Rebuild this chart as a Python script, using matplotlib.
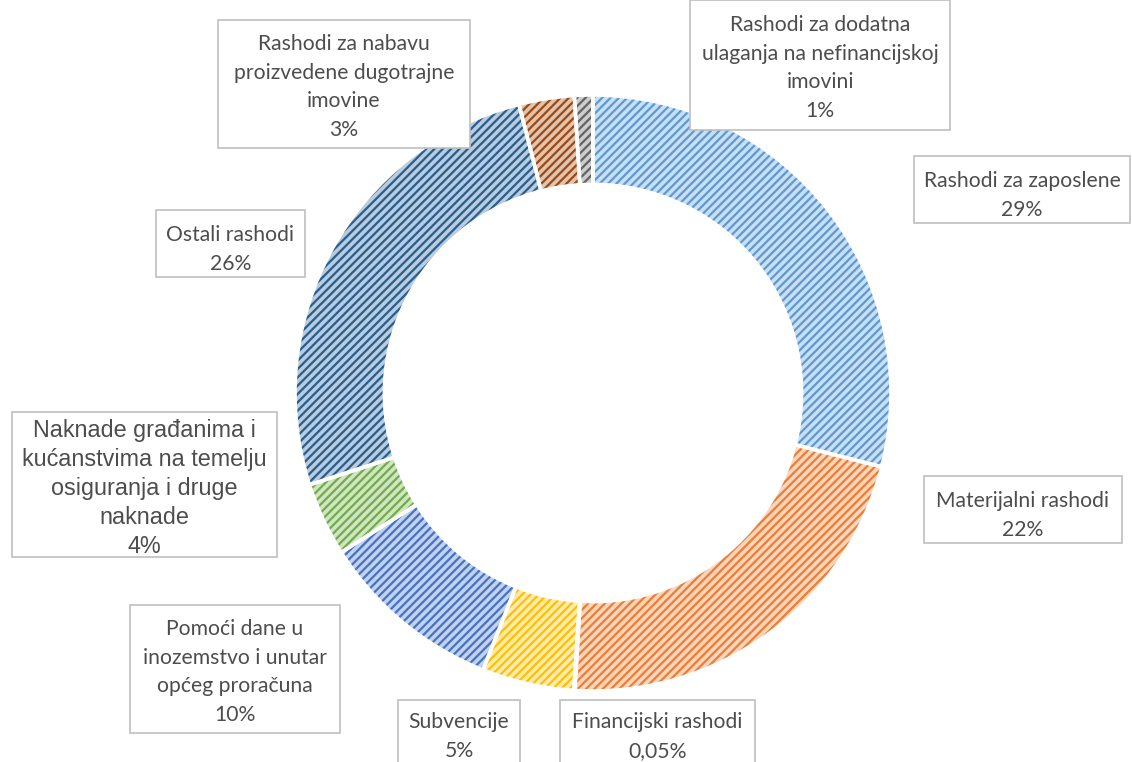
import matplotlib
matplotlib.use("Agg")
import matplotlib.pyplot as plt
from matplotlib.patches import Rectangle
from matplotlib.colors import to_rgb

# data
categories = [
    "Rashodi za zaposlene",
    "Materijalni rashodi",
    "Financijski rashodi",
    "Subvencije",
    "Pomoći dane u\ninozemstvo i unutar\nopćeg proračuna",
    "Naknade građanima i\nkućanstvima na temelju\nosiguranja i druge\nnaknade",
    "Ostali rashodi",
    "Rashodi za nabavu\nproizvedene dugotrajne\nimovine",
    "Rashodi za dodatna\nulaganja na nefinancijskoj\nimovini",
]
values = [29, 22, 0.05, 5, 10, 4, 26, 3, 1]
colors = ["#5B9BD5", "#ED7D31", "#A5A5A5", "#FFC000", "#4472C4",
          "#70AD47", "#255E91", "#9E480E", "#636363"]

# label box layout (image pixels: left, top, right, bottom)
boxes = [
    (914, 156, 1130, 223),
    (924, 476, 1122, 543),
    (560, 700, 755, 770),
    (398, 700, 520, 770),
    (130, 605, 340, 733),
    (12, 412, 277, 557),
    (156, 210, 305, 277),
    (218, 20, 470, 148),
    (690, 0, 950, 130),
]

W, H = 1132, 762
fig = plt.figure(figsize=(W / 100, H / 100), dpi=100)
ax = fig.add_axes([0, 0, 1, 1])
plt.rcParams["hatch.linewidth"] = 1.6


def tint(c, f):
    r, g, b = to_rgb(c)
    return (r + (1 - r) * f, g + (1 - g) * f, b + (1 - b) * f)


cx, cy, R = 593, H - 393, 298
ring = R * 0.30
wedges, _ = ax.pie(values, center=(cx, cy), radius=R, startangle=90,
                   counterclock=False,
                   wedgeprops=dict(width=ring, linewidth=0))
for w, c in zip(wedges, colors):
    w.set_facecolor(tint(c, 0.68))
    w.set_edgecolor(c)
    w.set_hatch("////")
    w.set_linewidth(0)

# white separators
seps, _ = ax.pie(values, center=(cx, cy), radius=R, startangle=90,
                 counterclock=False,
                 wedgeprops=dict(width=ring, linewidth=2.6,
                                 edgecolor="white", facecolor="none"))

for i, (lab, v) in enumerate(zip(categories, values)):
    l, t, r, b = boxes[i]
    ax.add_patch(Rectangle((l, H - b), r - l, b - t, facecolor="white",
                           edgecolor="#BFBFBF", linewidth=1.2, zorder=5))
    pct = f"{v:g}%".replace(".", ",")
    txt = lab + "\n" + pct
    nlines = txt.count("\n") + 1
    if i == 5:
        ax.text((l + r) / 2, H - (t + b) / 2 - 4, txt, ha="center",
                va="center", fontsize=16.8, family="Liberation Sans",
                color="#4D4D4D", linespacing=1.32, zorder=6)
    else:
        cut = b > H
        if cut:
            ty, va = H - t - 12, "top"
        else:
            ty, va = H - (t + b) / 2 - (6 if nlines == 2 else 3), "center"
        ax.text((l + r) / 2, ty, txt, ha="center", va=va,
                fontsize=15.2, family="Lato", color="#4D4D4D",
                linespacing=1.55, zorder=6)

ax.set_xlim(0, W)
ax.set_ylim(0, H)
ax.set_aspect("auto")
ax.axis("off")

fig.savefig("out.png", dpi=100)
